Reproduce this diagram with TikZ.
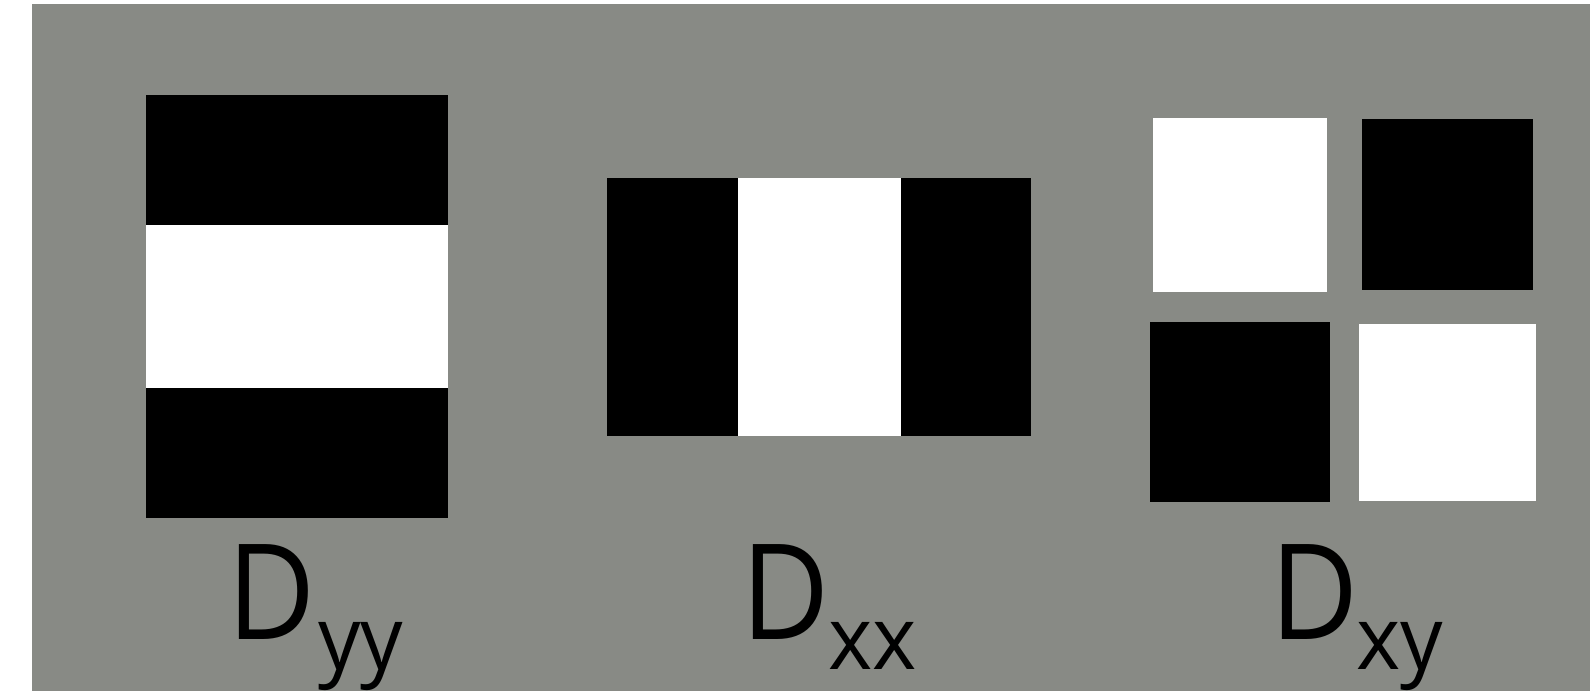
\documentclass[tikz,border=0pt]{standalone}
\usepackage{fontspec}
\setmainfont{Open Sans}
\definecolor{bggray}{HTML}{888A85}
\begin{document}
\begin{tikzpicture}[x=1pt,y=-1pt,
  blk/.style={fill=black,draw=none},
  wht/.style={fill=white,draw=none},
  bigD/.style={inner sep=0pt,anchor=base west,font=\fontsize{133}{133}\selectfont},
  subs/.style={inner sep=0pt,anchor=base west,font=\fontsize{88}{88}\selectfont}]
\useasboundingbox (0,0) rectangle (1590,691);
\fill[white] (0,0) rectangle (1590,691);
\fill[bggray] (32,4) rectangle (1590,691);
% Dyy
\fill[blk] (146,95) rectangle (448,225);
\fill[wht] (146,225) rectangle (448,388);
\fill[blk] (146,388) rectangle (448,518);
% Dxx
\fill[blk] (607,178) rectangle (738,436);
\fill[wht] (738,178) rectangle (901,436);
\fill[blk] (901,178) rectangle (1031,436);
% Dxy
\fill[wht] (1153,118) rectangle (1327,292);
\fill[blk] (1362,119) rectangle (1533,290);
\fill[blk] (1150,322) rectangle (1330,502);
\fill[wht] (1359,324) rectangle (1536,501);
% labels
\node[bigD] (dyy) at (227,639) {\scalebox{0.91}[1]{D}};
\node[bigD] (dxx) at (741,639) {\scalebox{0.91}[1]{D}};
\node[bigD] (dxy) at (1270,639) {\scalebox{0.91}[1]{D}};
\node[subs] (syy) at (318,669) {\scalebox{0.96}[1]{yy}};
\node[subs] (sxx) at (828,669) {\scalebox{0.96}[1]{xx}};
\node[subs] (sxy) at (1356,669) {\scalebox{0.96}[1]{xy}};
\end{tikzpicture}
\end{document}
